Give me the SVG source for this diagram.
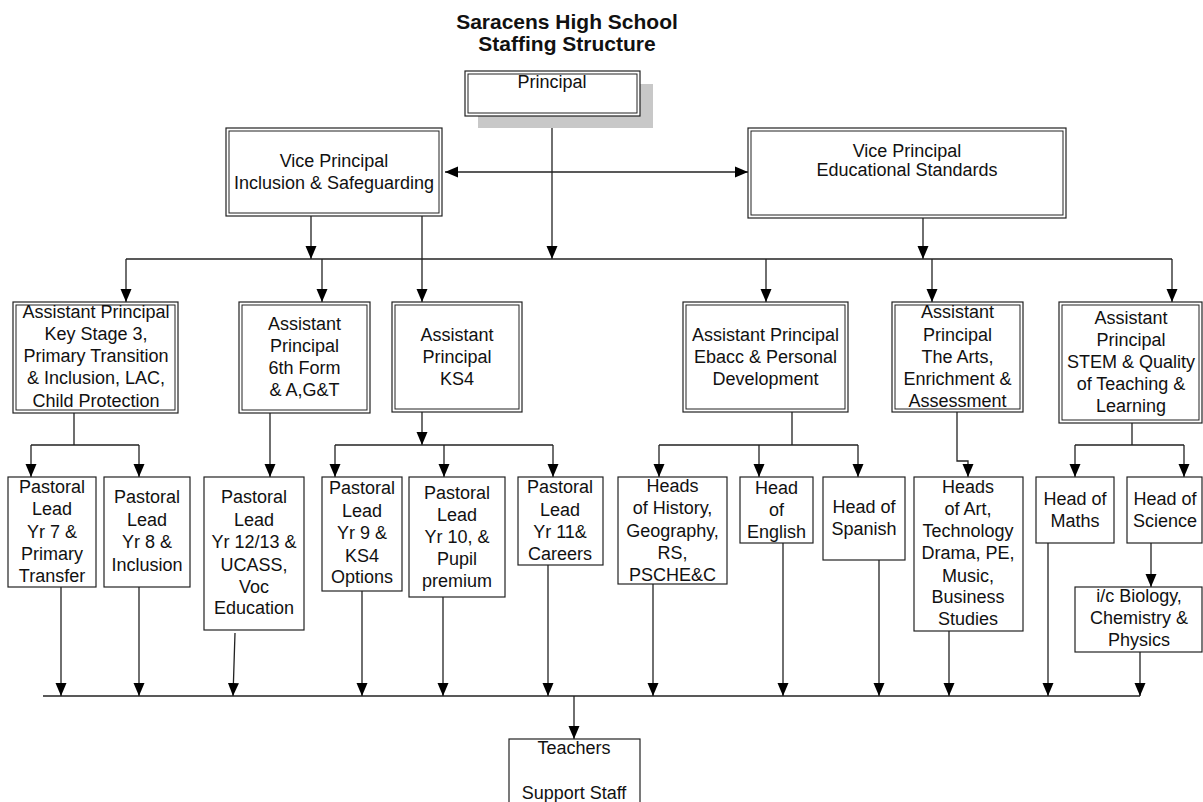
<svg xmlns="http://www.w3.org/2000/svg" width="1203" height="802" viewBox="0 0 1203 802">
<style>
text{font-family:"Liberation Sans",Arial,sans-serif;font-size:18px;fill:#111;text-anchor:middle}
.title{font-weight:bold;font-size:21px}
.box{fill:#fff;stroke:#222;stroke-width:1.2}
.inner{fill:none;stroke:#222;stroke-width:1}
.ln{fill:none;stroke:#222;stroke-width:1.3}
.ar{marker-end:url(#ah)}
.shadow{fill:#c8c8c8}
</style>
<defs>
<marker id="ah" markerUnits="userSpaceOnUse" markerWidth="13" markerHeight="12" refX="13" refY="6" orient="auto">
<path d="M0,0.5 L13,6 L0,11.5 z" fill="#000"/>
</marker>
<marker id="ahs" markerUnits="userSpaceOnUse" markerWidth="13" markerHeight="12" refX="0" refY="6" orient="auto">
<path d="M13,0.5 L0,6 L13,11.5 z" fill="#000"/>
</marker>
</defs>
<rect width="1203" height="802" fill="#fff"/>
<g id="title">
<text class="title" x="567" y="29">Saracens High School</text>
<text class="title" x="567" y="51">Staffing Structure</text>
</g>
<g id="connectors">
<path class="ln ar" d="M552,116 V259"/>
<path class="ln" d="M445,172 H748" marker-start="url(#ahs)" marker-end="url(#ah)"/>
<path class="ln ar" d="M311,216 V259"/>
<path class="ln ar" d="M422,216 V302"/>
<path class="ln ar" d="M923,218 V259"/>
<path class="ln" d="M126,259 H1172"/>
<path class="ln ar" d="M126,259 V302"/>
<path class="ln ar" d="M322,259 V302"/>
<path class="ln ar" d="M766,259 V302"/>
<path class="ln ar" d="M932,259 V302"/>
<path class="ln ar" d="M1172,259 V302"/>
<path class="ln" d="M74,413 V445 M31,445 H139"/>
<path class="ln ar" d="M31,445 V477"/>
<path class="ln ar" d="M139,445 V477"/>
<path class="ln ar" d="M270,413 V477"/>
<path class="ln ar" d="M422,412 V445"/>
<path class="ln" d="M335,445 H553"/>
<path class="ln ar" d="M335,445 V477"/>
<path class="ln ar" d="M444,445 V477"/>
<path class="ln ar" d="M553,445 V477"/>
<path class="ln" d="M792,412 V445 M659,445 H858"/>
<path class="ln ar" d="M659,445 V477"/>
<path class="ln ar" d="M759,445 V477"/>
<path class="ln ar" d="M858,445 V477"/>
<path class="ln ar" d="M957,412 V461 H968 V477"/>
<path class="ln" d="M1132,423 V445 M1075,445 H1184"/>
<path class="ln ar" d="M1075,445 V477"/>
<path class="ln ar" d="M1184,445 V477"/>
<path class="ln ar" d="M1151,543 V587"/>
<path class="ln" d="M43,696 H1140"/>
<path class="ln ar" d="M61,587 V696"/>
<path class="ln ar" d="M139,587 V696"/>
<path class="ln ar" d="M235,633 L233,696"/>
<path class="ln ar" d="M362,591 V696"/>
<path class="ln ar" d="M443,597 V696"/>
<path class="ln ar" d="M548,565 V696"/>
<path class="ln ar" d="M653,584 V696"/>
<path class="ln ar" d="M783,543 V696"/>
<path class="ln ar" d="M879,560 V696"/>
<path class="ln ar" d="M949,631 V696"/>
<path class="ln ar" d="M1048,543 V696"/>
<path class="ln ar" d="M1140,652 V696"/>
<path class="ln ar" d="M574,696 V739"/>
</g>
<g id="principal">
<rect class="shadow" x="478" y="84" width="175" height="44"/>
<rect class="box" x="465" y="71" width="175" height="45"/>
<rect class="inner" x="468" y="74" width="169" height="39"/>
<text x="552" y="88">Principal</text>
</g>
<g id="vp-inclusion">
<rect class="box" x="226" y="128" width="216" height="88"/>
<rect class="inner" x="229" y="131" width="210" height="82"/>
<text x="334" y="167">Vice Principal</text>
<text x="334" y="189">Inclusion &amp; Safeguarding</text>
</g>
<g id="vp-standards">
<rect class="box" x="748" y="128" width="318" height="90"/>
<rect class="inner" x="751" y="131" width="312" height="84"/>
<text x="907" y="157">Vice Principal</text>
<text x="907" y="176">Educational Standards</text>
</g>
<g id="ap-ks3">
<rect class="box" x="13" y="302" width="165" height="111"/>
<rect class="inner" x="16" y="305" width="159" height="105"/>
<text x="96" y="318">Assistant Principal</text>
<text x="96" y="340">Key Stage 3,</text>
<text x="96" y="362">Primary Transition</text>
<text x="96" y="384">&amp; Inclusion, LAC,</text>
<text x="96" y="407">Child Protection</text>
</g>
<g id="ap-6th">
<rect class="box" x="239" y="302" width="131" height="111"/>
<rect class="inner" x="242" y="305" width="125" height="105"/>
<text x="304.5" y="330">Assistant</text>
<text x="304.5" y="352">Principal</text>
<text x="304.5" y="374">6th Form</text>
<text x="304.5" y="396">&amp; A,G&amp;T</text>
</g>
<g id="ap-ks4">
<rect class="box" x="392" y="302" width="130" height="110"/>
<rect class="inner" x="395" y="305" width="124" height="104"/>
<text x="457" y="341">Assistant</text>
<text x="457" y="363">Principal</text>
<text x="457" y="385">KS4</text>
</g>
<g id="ap-ebacc">
<rect class="box" x="683" y="302" width="165" height="110"/>
<rect class="inner" x="686" y="305" width="159" height="104"/>
<text x="765.5" y="341">Assistant Principal</text>
<text x="765.5" y="363">Ebacc &amp; Personal</text>
<text x="765.5" y="385">Development</text>
</g>
<g id="ap-arts">
<rect class="box" x="892" y="302" width="131" height="110"/>
<rect class="inner" x="895" y="305" width="125" height="104"/>
<text x="957.5" y="318">Assistant</text>
<text x="957.5" y="341">Principal</text>
<text x="957.5" y="363">The Arts,</text>
<text x="957.5" y="385">Enrichment &amp;</text>
<text x="957.5" y="407">Assessment</text>
</g>
<g id="ap-stem">
<rect class="box" x="1059" y="302" width="143" height="121"/>
<rect class="inner" x="1062" y="305" width="137" height="115"/>
<text x="1131" y="324">Assistant</text>
<text x="1131" y="346">Principal</text>
<text x="1131" y="368">STEM &amp; Quality</text>
<text x="1131" y="390">of Teaching &amp;</text>
<text x="1131" y="412">Learning</text>
</g>
<g id="pl-yr7">
<rect class="box" x="8" y="477" width="88" height="110"/>
<text x="52" y="493">Pastoral</text>
<text x="52" y="515">Lead</text>
<text x="52" y="538">Yr 7 &amp;</text>
<text x="52" y="560">Primary</text>
<text x="52" y="582">Transfer</text>
</g>
<g id="pl-yr8">
<rect class="box" x="104" y="477" width="86" height="110"/>
<text x="147" y="503">Pastoral</text>
<text x="147" y="526">Lead</text>
<text x="147" y="548">Yr 8 &amp;</text>
<text x="147" y="571">Inclusion</text>
</g>
<g id="pl-yr12">
<rect class="box" x="204" y="477" width="100" height="153"/>
<text x="254" y="503">Pastoral</text>
<text x="254" y="526">Lead</text>
<text x="254" y="548">Yr 12/13 &amp;</text>
<text x="254" y="571">UCASS,</text>
<text x="254" y="593">Voc</text>
<text x="254" y="614">Education</text>
</g>
<g id="pl-yr9">
<rect class="box" x="322" y="477" width="80" height="114"/>
<text x="362" y="494">Pastoral</text>
<text x="362" y="517">Lead</text>
<text x="362" y="539">Yr 9 &amp;</text>
<text x="362" y="562">KS4</text>
<text x="362" y="583">Options</text>
</g>
<g id="pl-yr10">
<rect class="box" x="409" y="477" width="96" height="120"/>
<text x="457" y="499">Pastoral</text>
<text x="457" y="521">Lead</text>
<text x="457" y="543">Yr 10, &amp;</text>
<text x="457" y="565">Pupil</text>
<text x="457" y="587">premium</text>
</g>
<g id="pl-yr11">
<rect class="box" x="518" y="477" width="85" height="88"/>
<text x="560" y="493">Pastoral</text>
<text x="560" y="516">Lead</text>
<text x="560" y="538">Yr 11&amp;</text>
<text x="560" y="560">Careers</text>
</g>
<g id="heads-history">
<rect class="box" x="618" y="477" width="109" height="107"/>
<text x="672.5" y="492">Heads</text>
<text x="672.5" y="514">of History,</text>
<text x="672.5" y="537">Geography,</text>
<text x="672.5" y="559">RS,</text>
<text x="672.5" y="581">PSCHE&amp;C</text>
</g>
<g id="head-english">
<rect class="box" x="740" y="477" width="73" height="66"/>
<text x="776.5" y="494">Head</text>
<text x="776.5" y="516">of</text>
<text x="776.5" y="538">English</text>
</g>
<g id="head-spanish">
<rect class="box" x="823" y="477" width="82" height="83"/>
<text x="864" y="513">Head of</text>
<text x="864" y="535">Spanish</text>
</g>
<g id="heads-art">
<rect class="box" x="914" y="477" width="109" height="154"/>
<text x="968" y="493">Heads</text>
<text x="968" y="515">of Art,</text>
<text x="968" y="537">Technology</text>
<text x="968" y="559">Drama, PE,</text>
<text x="968" y="582">Music,</text>
<text x="968" y="603">Business</text>
<text x="968" y="625">Studies</text>
</g>
<g id="head-maths">
<rect class="box" x="1036" y="477" width="78" height="66"/>
<text x="1075" y="505">Head of</text>
<text x="1075" y="527">Maths</text>
</g>
<g id="head-science">
<rect class="box" x="1127" y="477" width="75" height="66"/>
<text x="1165" y="505">Head of</text>
<text x="1165" y="527">Science</text>
</g>
<g id="ic-sciences">
<rect class="box" x="1075" y="587" width="127" height="65"/>
<text x="1139" y="602">i/c Biology,</text>
<text x="1139" y="624">Chemistry &amp;</text>
<text x="1139" y="646">Physics</text>
</g>
<g id="teachers">
<rect class="box" x="509" y="739" width="131" height="75"/>
<text x="574" y="754">Teachers</text>
<text x="574" y="799">Support Staff</text>
</g>
</svg>
